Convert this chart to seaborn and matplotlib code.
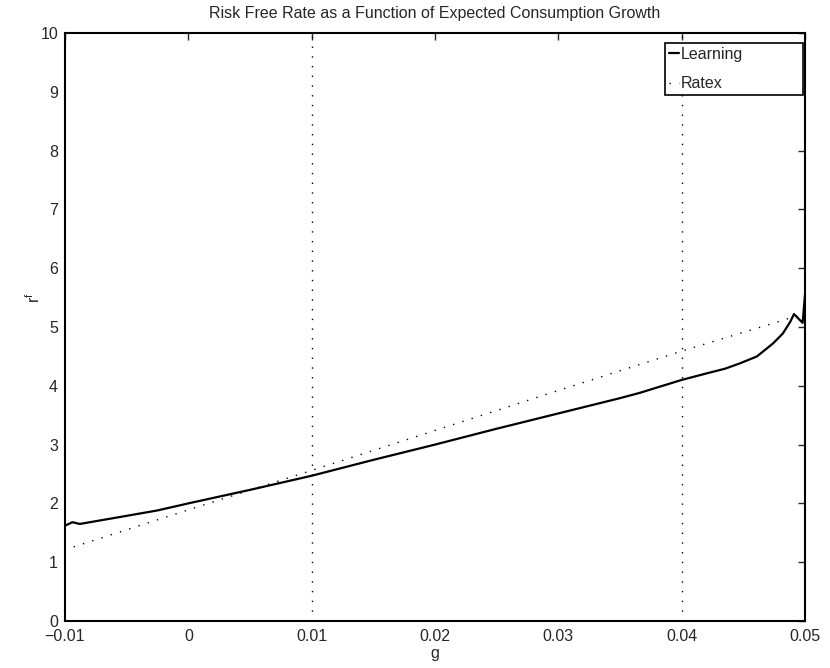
import matplotlib
matplotlib.use("Agg")
import matplotlib.pyplot as plt
import seaborn as sns
import pandas as pd

# risk free rate under learning
g_learning = [-0.01, -0.0094, -0.0088, -0.0055, -0.0025, 0.0, 0.005, 0.01, 0.015, 0.02,
              0.025, 0.03, 0.035, 0.0366, 0.04, 0.042, 0.0435, 0.0447, 0.0461, 0.0474,
              0.0482, 0.0488, 0.0491, 0.0498, 0.05]
rf_learning = [1.62, 1.68, 1.65, 1.77, 1.88, 2.0, 2.23, 2.47, 2.74, 3.0,
               3.27, 3.53, 3.79, 3.88, 4.10, 4.21, 4.29, 4.38, 4.50, 4.72,
               4.89, 5.09, 5.22, 5.07, 5.57]

# rational expectations
g_ratex = [-0.0093, 0.0, 0.01, 0.02, 0.03, 0.04, 0.0497]
rf_ratex = [1.26, 1.89, 2.56, 3.24, 3.92, 4.59, 5.21]

vlines = [0.01, 0.04]

sns.set_style("white")
plt.rcParams['font.family'] = ['Liberation Sans', 'DejaVu Sans']

fig = plt.figure(figsize=(8.3, 6.68), dpi=100)
ax = fig.add_axes([0.0783, 0.0704, 0.8917, 0.8802])

df_l = pd.DataFrame({'g': g_learning, 'rf': rf_learning})
df_r = pd.DataFrame({'g': g_ratex, 'rf': rf_ratex})

sns.lineplot(data=df_l, x='g', y='rf', ax=ax, color='black', linewidth=1.6,
             label='Learning', sort=False)
sns.lineplot(data=df_r, x='g', y='rf', ax=ax, color='black', linewidth=1.0,
             linestyle=(0, (1, 6)), label='Ratex', sort=False)
for v in vlines:
    ax.axvline(v, color='black', linestyle=(0, (1, 6)), linewidth=1.0)

ax.set_xlim(-0.01, 0.05)
ax.set_ylim(0, 10)
ax.set_xticks([-0.01, 0, 0.01, 0.02, 0.03, 0.04, 0.05])
ax.set_xticklabels(['\u22120.01', '0', '0.01', '0.02', '0.03', '0.04', '0.05'])
ax.set_yticks(range(0, 11))
ax.tick_params(direction='in', top=True, right=True, length=5, width=1,
               labelsize=11.5)
ax.tick_params(axis='x', pad=5.5)
ax.tick_params(axis='y', pad=5)
for s in ax.spines.values():
    s.set_linewidth(1.5)
    s.set_color('black')

ax.set_title('Risk Free Rate as a Function of Expected Consumption Growth',
             fontsize=11.5, pad=11)
ax.set_xlabel('g', fontsize=11.5, labelpad=2)
ax.set_ylabel(r'$\mathregular{r^f}$', fontsize=11.5)
ax.yaxis.set_label_coords(-0.030, 0.55)

leg = ax.legend(loc='upper left', bbox_to_anchor=(0.811, 0.888, 0.1865, 0.095),
                mode='expand', fancybox=False, edgecolor='black', framealpha=1,
                fontsize=11.5, handlelength=0.6, handletextpad=0.1,
                borderpad=0.25, labelspacing=0.9, borderaxespad=0)
leg.get_frame().set_linewidth(1.2)

fig.savefig('out.png', dpi=100)
